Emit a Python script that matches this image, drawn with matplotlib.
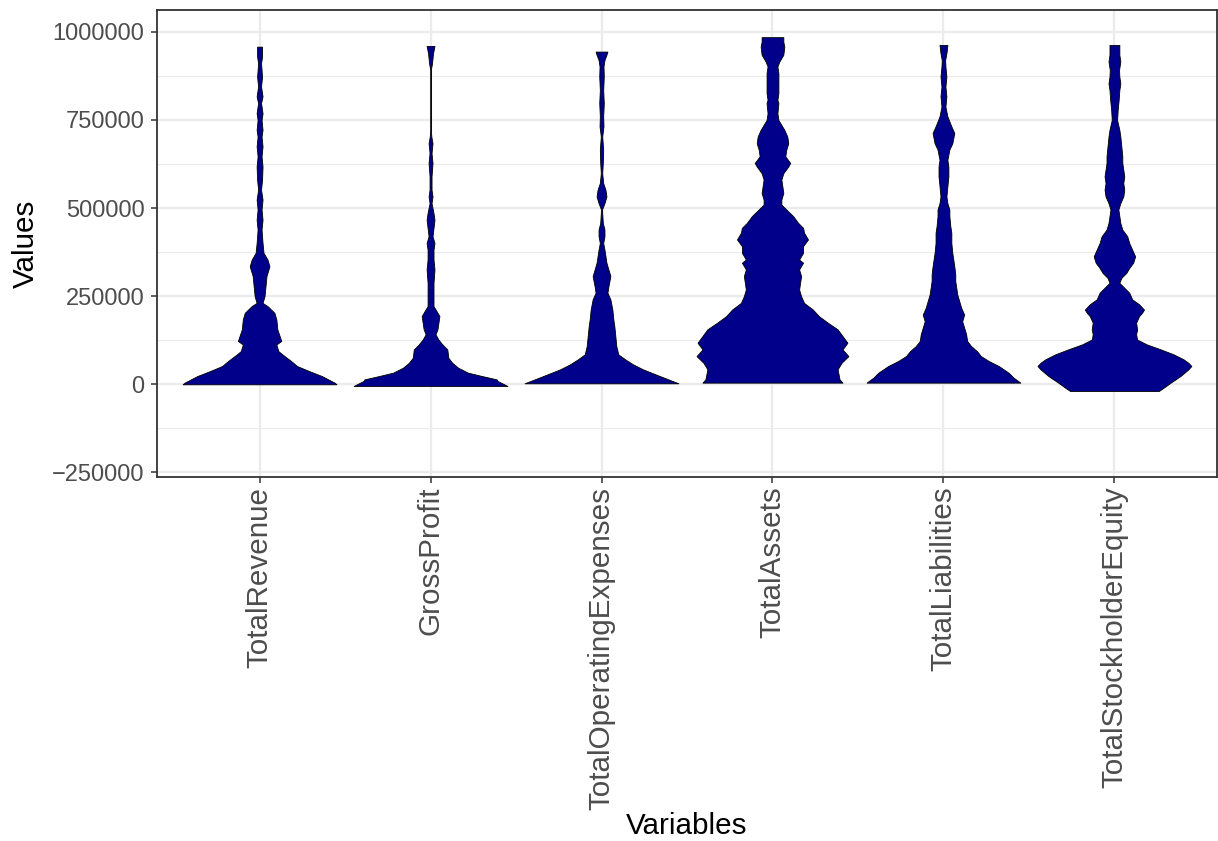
import numpy as np
import matplotlib
matplotlib.use("Agg")
import matplotlib.pyplot as plt

plt.rcParams['font.family'] = ['Liberation Sans', 'DejaVu Sans']

variables = ["TotalRevenue", "GrossProfit", "TotalOperatingExpenses",
             "TotalAssets", "TotalLiabilities", "TotalStockholderEquity"]

# density profiles: value (thousands) and relative width
rev_y = [0, 4.7, 23.6, 37.8, 51.9, 66, 85, 94.4, 113, 123, 156, 184, 203, 222, 231,
         250, 278, 307, 335, 354, 373, 401, 439, 467, 496, 524, 552, 581, 618, 647,
         675, 703, 722, 750, 769, 798, 817, 845, 873, 911, 930, 958]
rev_d = [78, 76, 63, 50, 38, 32, 23, 19, 17, 22, 18, 17, 15, 8, 3,
         5, 6, 7, 10, 8, 4, 3, 2, 3, 2, 3, 1.5, 2.5, 3, 2,
         3, 2, 3, 2, 3, 1.5, 3, 1.5, 2.5, 1.5, 2.5, 2.5]

gp_y = [-4.7, 9.4, 14, 23.6, 33, 47, 61, 75.5, 99, 113, 127, 142, 156, 175, 193.5,
        208, 222, 250, 288, 326, 354, 382, 401, 420, 467, 486, 514, 533, 552, 590,
        628, 656, 684, 703, 722, 892, 911, 939, 960]
gp_d = [78, 68, 67, 52, 38, 28, 22, 18, 17, 12, 8, 5, 7, 8, 9,
        6, 3, 3, 3, 4, 3, 3, 4, 2, 4, 3, 1, 2, 1, 1,
        2, 1, 2, 0.8, 0.3, 0.3, 1.5, 2.5, 4]

opex_y = [2.8, 23.6, 42.5, 56.6, 70.8, 85, 108.6, 137, 165, 184, 212, 241, 260, 278,
          307, 326, 345, 382, 401, 420, 439, 458, 496, 514, 533, 552, 571, 599, 628,
          666, 703, 732, 760, 798, 835, 873, 902, 920, 935, 944]
opex_d = [78, 59, 42, 32, 24, 17, 15, 14, 13, 12, 11, 9, 6, 7,
          9, 7, 5, 3, 1.7, 3, 3, 1.3, 0.5, 3, 5, 4, 1.7, 0.7, 1.3,
          1.7, 0.7, 2, 1.7, 2.3, 1.7, 2.3, 2, 3, 5, 6]

assets_y = [4.7, 14, 42.5, 61, 80, 99, 118, 137, 156, 175, 193.5, 212, 231, 250, 269,
            288, 307, 326, 345, 354, 373, 392, 411, 430, 444, 458, 477, 496, 510, 524,
            543, 562, 581, 599, 618, 628, 647, 666, 684, 703, 722, 736, 750, 769, 798,
            807, 826, 854, 883, 902, 916, 935, 958, 972, 985]
assets_d = [71, 68, 66, 70, 77, 71, 76, 71, 66, 56, 47, 41, 32, 29, 27,
            28, 29, 27, 31, 27, 31, 31, 36, 32, 31, 26, 21, 14, 9, 9,
            11, 10, 9, 11, 16, 18, 13, 14, 16, 15, 12, 9, 6, 5, 6,
            5, 6, 6, 6, 5, 7, 11, 12, 11, 11]

liab_y = [4.7, 19, 33, 52, 66, 80, 94, 108.6, 123, 142, 160.5, 179, 198, 217, 236,
          255, 274, 293, 312, 335, 354, 373, 401, 430, 448, 477, 496, 514, 533, 562,
          590, 618, 637, 666, 684, 713, 732, 760, 788, 817, 845, 873, 902, 920, 939, 963]
liab_d = [78, 71, 66, 56, 46, 38, 34, 28, 24, 23, 21, 19, 21, 18, 16,
          14, 13, 12, 12, 11, 10, 9, 8, 8, 7, 6, 6, 4, 3, 4,
          5, 5, 4, 6, 9, 11, 8, 4, 2, 3, 2, 3, 2, 1.7, 3, 4]

equity_y = [-19, -9.4, 4.7, 23.6, 42.5, 52, 61, 71, 85, 99, 113, 127, 142, 156, 175,
            193.5, 203, 212, 227, 241, 260, 274, 288, 302, 316, 330, 345, 363, 382, 401,
            420, 439, 458, 477, 496, 514, 533, 552, 571, 590, 609, 628, 647, 675, 703,
            722, 750, 779, 807, 835, 854, 873, 892, 916, 935, 963]
equity_d = [45, 50, 57, 67, 75, 78, 75, 70, 60, 47, 33, 23, 22, 23, 22,
            25, 28, 30, 25, 18, 15, 10, 5, 7, 12, 15, 19, 21, 18, 15,
            13, 8, 6, 5, 4, 6, 9, 10, 9, 10, 9, 8, 8, 7, 6,
            5, 2.7, 3.3, 4.3, 5, 6, 5, 4.7, 6, 5, 5]

profiles = [(rev_y, rev_d), (gp_y, gp_d), (opex_y, opex_d),
            (assets_y, assets_d), (liab_y, liab_d), (equity_y, equity_d)]

fig = plt.figure(figsize=(12.18, 8.41), dpi=100)
ax = fig.add_axes([157 / 1218, 1 - 477 / 841, (1217 - 157) / 1218, (477 - 10) / 841])

dmax = max(max(d) for _, d in profiles)
for i, (yv, dv) in enumerate(profiles):
    y = np.array(yv) * 1000
    hw = np.array(dv) / dmax * 0.45
    ax.fill_betweenx(y, i + 1 - hw, i + 1 + hw, facecolor="#00008B",
                     edgecolor="black", linewidth=0.6, zorder=3)

ax.set_xlim(0.4, 6.6)
ax.set_ylim(-263000, 1062000)
ax.set_xticks(range(1, 7))
ax.set_xticklabels(variables, rotation=90, fontsize=21.3, color="#4D4D4D")
ax.set_yticks([-250000, 0, 250000, 500000, 750000, 1000000])
ax.set_yticklabels(["\u2212250000", "0", "250000", "500000", "750000", "1000000"],
                   fontsize=17, color="#4D4D4D")
ax.set_yticks([-125000, 125000, 375000, 625000, 875000], minor=True)

ax.grid(True, which="major", color="#EBEBEB", linewidth=1.6, zorder=0)
ax.grid(True, which="minor", axis="y", color="#EBEBEB", linewidth=0.8, zorder=0)
ax.set_axisbelow(True)
ax.tick_params(axis="both", which="major", length=4, width=1.1, color="#333333")
ax.tick_params(axis="x", which="major", pad=3)
ax.tick_params(axis="y", which="major", pad=5)
ax.tick_params(axis="both", which="minor", length=0)
for s in ax.spines.values():
    s.set_color("#333333")
    s.set_linewidth(1.3)

ax.set_xlabel("Variables", fontsize=21.3, labelpad=2)
ax.set_ylabel("Values", fontsize=21.3, labelpad=9)

fig.savefig("out.png", dpi=100)
